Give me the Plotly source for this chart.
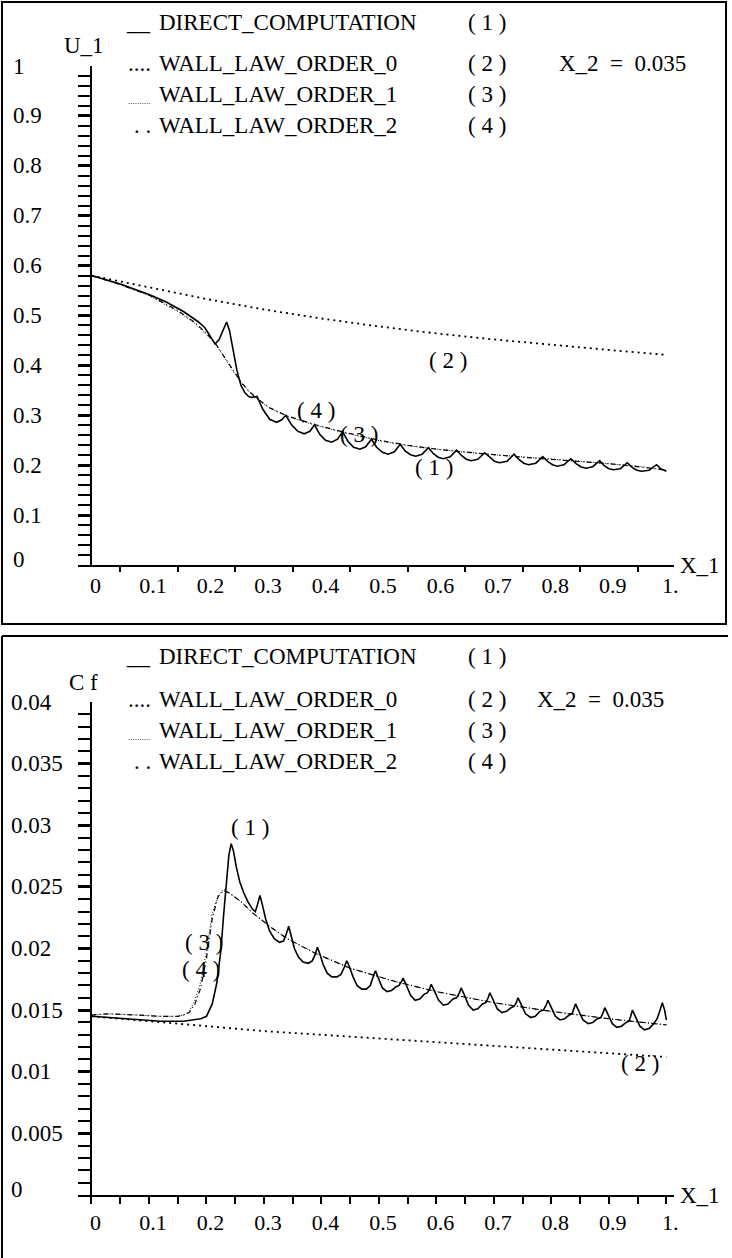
import plotly.graph_objects as go

W, H = 732, 1258
FONT = "Liberation Serif, Times New Roman, Times, DejaVu Serif, serif"

# ---------------- DATA: top panel (U_1 vs X_1) ----------------
x_u_wl0 = [0, 0.1, 0.2, 0.3, 0.4, 0.5, 0.6, 0.7, 0.8, 0.9, 1.0]
u_wl0 = [0.58, 0.556, 0.533, 0.512, 0.494, 0.478, 0.464, 0.452, 0.441, 0.431, 0.421]

x_u_wl = [0, 0.05, 0.1, 0.15, 0.18, 0.2, 0.215, 0.23, 0.245, 0.26, 0.275, 0.29,
          0.31, 0.34, 0.39, 0.44, 0.5, 0.55, 0.6, 0.65, 0.7, 0.75, 0.8, 0.85,
          0.9, 0.95, 1.0]
u_wl1 = [0.58, 0.562, 0.54, 0.508, 0.484, 0.462, 0.444, 0.418, 0.39, 0.366,
         0.346, 0.331, 0.314, 0.298, 0.28, 0.265, 0.249, 0.239, 0.232, 0.226,
         0.221, 0.217, 0.212, 0.208, 0.203, 0.198, 0.19]
u_wl2 = [0.58, 0.562, 0.541, 0.51, 0.486, 0.464, 0.445, 0.419, 0.391, 0.367,
         0.347, 0.332, 0.315, 0.299, 0.281, 0.266, 0.25, 0.24, 0.232, 0.226,
         0.221, 0.216, 0.212, 0.207, 0.203, 0.197, 0.19]

x_u_dc = [0, 0.05, 0.1, 0.13, 0.16, 0.185, 0.197, 0.207, 0.215, 0.222, 0.229,
          0.235, 0.24, 0.246, 0.253, 0.26, 0.267, 0.274, 0.28, 0.288,
          0.298, 0.31, 0.322, 0.331, 0.338,
          0.348, 0.359, 0.37, 0.38, 0.388,
          0.397, 0.407, 0.418, 0.428, 0.437,
          0.446, 0.456, 0.467, 0.477, 0.487,
          0.496, 0.506, 0.516, 0.527, 0.537,
          0.546, 0.555, 0.564, 0.575, 0.586,
          0.595, 0.603, 0.612, 0.624, 0.635,
          0.644, 0.652, 0.66, 0.672, 0.684,
          0.693, 0.701, 0.71, 0.723, 0.735,
          0.744, 0.752, 0.76, 0.773, 0.785,
          0.794, 0.802, 0.81, 0.822, 0.834,
          0.843, 0.851, 0.86, 0.872, 0.884,
          0.892, 0.9, 0.908, 0.92, 0.932,
          0.941, 0.949, 0.957, 0.97, 0.983,
          0.99, 1.0]
u_dc = [0.58, 0.563, 0.542, 0.527, 0.508, 0.488, 0.476, 0.458, 0.443, 0.452, 0.472,
        0.487, 0.47, 0.43, 0.39, 0.36, 0.345, 0.337, 0.336, 0.338,
        0.312, 0.292, 0.286, 0.291, 0.300,
        0.281, 0.268, 0.263, 0.268, 0.281,
        0.262, 0.250, 0.246, 0.252, 0.267,
        0.248, 0.236, 0.232, 0.237, 0.252,
        0.236, 0.226, 0.222, 0.227, 0.242,
        0.228, 0.221, 0.218, 0.222, 0.235,
        0.223, 0.216, 0.213, 0.217, 0.230,
        0.219, 0.212, 0.209, 0.212, 0.225,
        0.215, 0.208, 0.205, 0.208, 0.222,
        0.211, 0.204, 0.201, 0.204, 0.217,
        0.207, 0.201, 0.198, 0.201, 0.213,
        0.203, 0.197, 0.194, 0.197, 0.209,
        0.199, 0.193, 0.191, 0.193, 0.205,
        0.195, 0.190, 0.188, 0.190, 0.201,
        0.193, 0.188]

# ---------------- DATA: bottom panel (Cf vs X_1) ----------------
x_cf_wl0 = [0, 0.1, 0.2, 0.3, 0.4, 0.5, 0.6, 0.7, 0.8, 0.9, 1.0]
cf_wl0 = [0.0145, 0.0141, 0.0137, 0.0133, 0.0130, 0.0127, 0.0124, 0.0121,
          0.0118, 0.0115, 0.0112]

x_cf_wl = [0, 0.03, 0.08, 0.12, 0.15, 0.16, 0.17, 0.18, 0.19, 0.2, 0.21, 0.22,
           0.23, 0.24, 0.26, 0.28, 0.31, 0.34, 0.39, 0.45, 0.53, 0.6, 0.7,
           0.8, 0.9, 1.0]
cf_wl1 = [0.0146, 0.0147, 0.0146, 0.0145, 0.0145, 0.0146, 0.0149, 0.0158,
          0.0173, 0.0198, 0.0228, 0.0243, 0.0248, 0.0245, 0.0238, 0.0229,
          0.0218, 0.0208, 0.0196, 0.0184, 0.0173, 0.0165, 0.0156, 0.0149,
          0.0143, 0.0138]
cf_wl2 = [0.0146, 0.0147, 0.0146, 0.0145, 0.0145, 0.0146, 0.0148, 0.0155,
          0.0168, 0.0192, 0.0224, 0.0242, 0.0247, 0.0245, 0.0238, 0.0229,
          0.0218, 0.0208, 0.0196, 0.0184, 0.0173, 0.0165, 0.0156, 0.0149,
          0.0143, 0.0138]

x_cf_dc = [0, 0.03, 0.08, 0.12, 0.16, 0.18, 0.19, 0.2, 0.21, 0.218, 0.225, 0.23,
           0.235, 0.239, 0.243, 0.247, 0.252, 0.258, 0.265, 0.272, 0.28, 0.285,
           0.289, 0.293, 0.297, 0.303, 0.31, 0.318, 0.327, 0.334, 0.339, 0.343,
           0.347, 0.353, 0.36, 0.368, 0.377, 0.384, 0.389, 0.393,
           0.397, 0.403, 0.41, 0.418, 0.427, 0.434, 0.44, 0.444,
           0.448, 0.455, 0.462, 0.47, 0.478, 0.485, 0.49, 0.494,
           0.499, 0.506, 0.514, 0.522, 0.53, 0.535, 0.539, 0.542,
           0.547, 0.555, 0.563, 0.571, 0.579, 0.584, 0.588, 0.591,
           0.596, 0.604, 0.612, 0.62, 0.629, 0.635, 0.64, 0.643,
           0.648, 0.656, 0.664, 0.672, 0.68, 0.686, 0.69, 0.693,
           0.698, 0.706, 0.714, 0.722, 0.73, 0.735, 0.739, 0.742,
           0.747, 0.755, 0.764, 0.772, 0.78, 0.786, 0.791, 0.794,
           0.799, 0.807, 0.815, 0.823, 0.831, 0.836, 0.839, 0.842,
           0.847, 0.855, 0.864, 0.872, 0.88, 0.886, 0.89, 0.893,
           0.898, 0.906, 0.914, 0.922, 0.93, 0.935, 0.938, 0.941,
           0.946, 0.954, 0.962, 0.97, 0.978, 0.984, 0.989, 0.993,
           0.997, 1.0]
cf_dc = [0.0145, 0.0144, 0.0142, 0.0141, 0.0141, 0.0142, 0.0143, 0.0145, 0.0155,
         0.0172, 0.0198, 0.0228, 0.0256, 0.0276, 0.0285, 0.0279, 0.0266, 0.0254,
         0.0245, 0.0238, 0.0232, 0.0230, 0.0236, 0.0243, 0.0236, 0.0224, 0.0214,
         0.0208, 0.0205, 0.0206, 0.0212, 0.0218, 0.0211, 0.0200, 0.0193, 0.0189,
         0.0188, 0.0190, 0.0195, 0.0201,
         0.0196, 0.0187, 0.0180, 0.0177, 0.0177, 0.0179, 0.0185, 0.0190,
         0.0186, 0.0177, 0.0170, 0.0167, 0.0167, 0.0170, 0.0177, 0.0182,
         0.0176, 0.0168, 0.0165, 0.0166, 0.0169, 0.0170, 0.0173, 0.0176,
         0.0171, 0.0162, 0.0158, 0.0159, 0.0163, 0.0164, 0.0167, 0.0171,
         0.0166, 0.0158, 0.0154, 0.0155, 0.0159, 0.0160, 0.0164, 0.0168,
         0.0163, 0.0154, 0.0150, 0.0151, 0.0155, 0.0156, 0.0160, 0.0164,
         0.0159, 0.0151, 0.0148, 0.0149, 0.0152, 0.0153, 0.0156, 0.0160,
         0.0155, 0.0147, 0.0144, 0.0145, 0.0149, 0.0150, 0.0154, 0.0158,
         0.0153, 0.0145, 0.0142, 0.0143, 0.0146, 0.0147, 0.0151, 0.0155,
         0.0150, 0.0142, 0.0139, 0.0140, 0.0143, 0.0144, 0.0148, 0.0152,
         0.0147, 0.0139, 0.0136, 0.0137, 0.0140, 0.0141, 0.0145, 0.0150,
         0.0145, 0.0137, 0.0134, 0.0135, 0.0139, 0.0143, 0.0150, 0.0156,
         0.0150, 0.0142]

# ---------------- tick labels / texts ----------------
x_tickvals = [0, 0.1, 0.2, 0.3, 0.4, 0.5, 0.6, 0.7, 0.8, 0.9, 1.0]
x_ticktext = ["0", "0.1", "0.2", "0.3", "0.4", "0.5", "0.6", "0.7", "0.8", "0.9", "1."]
x_minor = [0.05, 0.15, 0.25, 0.35, 0.45, 0.55, 0.65, 0.75, 0.85, 0.95]
u_tickvals = [0, 0.1, 0.2, 0.3, 0.4, 0.5, 0.6, 0.7, 0.8, 0.9, 1.0]
u_ticktext = ["0", "0.1", "0.2", "0.3", "0.4", "0.5", "0.6", "0.7", "0.8", "0.9", "1"]
cf_tickvals = [0, 0.005, 0.01, 0.015, 0.02, 0.025, 0.03, 0.035, 0.04]
cf_ticktext = ["0", "0.005", "0.01", "0.015", "0.02", "0.025", "0.03", "0.035", "0.04"]
legend_names = ["DIRECT_COMPUTATION", "WALL_LAW_ORDER_0", "WALL_LAW_ORDER_1", "WALL_LAW_ORDER_2"]
legend_nums = ["( 1 )", "( 2 )", "( 3 )", "( 4 )"]
legend_marks = ["__", "....", "..........", ". ."]
x2_text = "X_2  =  0.035"

# ---------------- layout geometry (pixels) ----------------
def px(v):
    return v / W

def py(v):
    return 1 - v / H

X0_PX, X1_PX = 92, 670          # data x = 0 and x = 1
XL_PX, XR_PX = 78, 678          # axis line extent
scale = (X1_PX - X0_PX)
xr = [(XL_PX - X0_PX) / scale, (XR_PX - X0_PX) / scale]

TOP_Y0, TOP_Y1 = 565, 66         # pixel rows of value 0 / value 1
BOT_Y0, BOT_Y1 = 1195, 702       # pixel rows of value 0 / value 0.04

fig = go.Figure()

black = "#000000"
styles = {
    "dc": dict(color=black, width=1.6),
    "wl0": dict(color=black, width=1.8, dash="2px,4px"),
    "wl1": dict(color=black, width=1.0, dash="1px,2px"),
    "wl2": dict(color=black, width=1.2, dash="5px,3px,1px,3px"),
}

fig.add_trace(go.Scatter(x=x_u_wl0, y=u_wl0, mode="lines", line=styles["wl0"], xaxis="x", yaxis="y"))
fig.add_trace(go.Scatter(x=x_u_wl, y=u_wl1, mode="lines", line=styles["wl1"], xaxis="x", yaxis="y"))
fig.add_trace(go.Scatter(x=x_u_wl, y=u_wl2, mode="lines", line=styles["wl2"], xaxis="x", yaxis="y"))
fig.add_trace(go.Scatter(x=x_u_dc, y=u_dc, mode="lines", line=styles["dc"], xaxis="x", yaxis="y"))
fig.add_trace(go.Scatter(x=x_cf_wl0, y=cf_wl0, mode="lines", line=styles["wl0"], xaxis="x2", yaxis="y2"))
fig.add_trace(go.Scatter(x=x_cf_wl, y=cf_wl1, mode="lines", line=styles["wl1"], xaxis="x2", yaxis="y2"))
fig.add_trace(go.Scatter(x=x_cf_wl, y=cf_wl2, mode="lines", line=styles["wl2"], xaxis="x2", yaxis="y2"))
fig.add_trace(go.Scatter(x=x_cf_dc, y=cf_dc, mode="lines", line=styles["dc"], xaxis="x2", yaxis="y2"))

TXT = 23
tickfont = dict(family=FONT, size=22, color=black)

def xaxis_cfg(anchor, major_len, minor_len):
    return dict(
        domain=[px(XL_PX), px(XR_PX)], range=xr, anchor=anchor,
        showline=True, linecolor=black, linewidth=2,
        zeroline=True, zerolinecolor=black, zerolinewidth=2,
        showgrid=False, tickmode="array", tickvals=x_tickvals, ticktext=x_ticktext,
        ticks="outside", ticklen=major_len, tickwidth=1.5, tickcolor=black,
        tickfont=tickfont, ticklabelshift=4,
        minor=dict(tickmode="array", tickvals=x_minor, ticks="outside",
                   ticklen=minor_len, tickwidth=1.5, tickcolor=black, showgrid=False),
    )

def yaxis_cfg(anchor, y0px, y1px, rng, tv, mdt):
    return dict(
        domain=[py(y0px), py(y1px)], range=rng, anchor=anchor,
        showline=False, zeroline=False, showgrid=False,
        tickmode="array", tickvals=tv, showticklabels=False,
        ticks="inside", ticklen=14, tickwidth=2.5, tickcolor=black,
        minor=dict(dtick=mdt, tick0=0, ticks="inside", ticklen=14, tickwidth=2,
                   tickcolor=black, showgrid=False),
    )

annotations = []
def txt(xp, yp, text, size=TXT, xanchor="left", yanchor="middle", xref="paper", yref="paper", yshift=0):
    annotations.append(dict(x=xp, y=yp, xref=xref, yref=yref, text=text, showarrow=False,
                            xanchor=xanchor, yanchor=yanchor, yshift=yshift,
                            font=dict(family=FONT, size=size, color=black)))

# y tick labels (left aligned like the original)
for v, t in zip(u_tickvals, u_ticktext):
    txt(px(11), v, t, xref="paper", yref="y", yshift=(6 if v == 0 else 0))
for v, t in zip(cf_tickvals, cf_ticktext):
    txt(px(9), v, t, xref="paper", yref="y2", yshift=(6 if v == 0 else 0))

# axis titles
txt(px(84), py(46), "U_1", xanchor="center")
txt(px(84), py(682), "C f", xanchor="center")
txt(px(682), 0, "X_1", xref="paper", yref="y", yshift=0)
txt(px(682), 0, "X_1", xref="paper", yref="y2", yshift=0)

# legends
top_rows = [22, 64, 95, 126]
bot_rows = [656, 700, 731, 762]
for rows in (top_rows, bot_rows):
    for i, r in enumerate(rows):
        if i == 2:
            txt(px(154), py(r), legend_marks[i], size=9, xanchor="right", yshift=-6)
        else:
            txt(px(154), py(r), legend_marks[i], xanchor="right")
        txt(px(158), py(r), legend_names[i])
        txt(px(469), py(r), legend_nums[i])
txt(px(560), py(top_rows[1]), x2_text)
txt(px(538), py(bot_rows[1]), x2_text)

# curve labels
txt(0.62, 0.41, "( 2 )", xref="x", yref="y", xanchor="center")
txt(0.39, 0.31, "( 4 )", xref="x", yref="y", xanchor="center")
txt(0.465, 0.262, "( 3 )", xref="x", yref="y", xanchor="center")
txt(0.595, 0.196, "( 1 )", xref="x", yref="y", xanchor="center")
txt(0.275, 0.0298, "( 1 )", xref="x2", yref="y2", xanchor="center")
txt(0.195, 0.0205, "( 3 )", xref="x2", yref="y2", xanchor="center")
txt(0.19, 0.0183, "( 4 )", xref="x2", yref="y2", xanchor="center")
txt(0.955, 0.0107, "( 2 )", xref="x2", yref="y2", xanchor="center")

shapes = [
    dict(type="rect", xref="paper", yref="paper", x0=px(2), x1=px(730), y0=py(624), y1=py(2),
         line=dict(color=black, width=2)),
    dict(type="line", xref="paper", yref="paper", x0=px(2), x1=px(732), y0=py(636), y1=py(636),
         line=dict(color=black, width=2)),
    dict(type="line", xref="paper", yref="paper", x0=px(2), x1=px(2), y0=py(636), y1=py(1258),
         line=dict(color=black, width=2)),
]

fig.update_layout(
    width=W, height=H, margin=dict(l=0, r=0, t=0, b=0),
    paper_bgcolor="white", plot_bgcolor="white", showlegend=False,
    font=dict(family=FONT, color=black),
    xaxis=xaxis_cfg("y", 0, 5),
    yaxis=yaxis_cfg("x", TOP_Y0, TOP_Y1, [0, 1], u_tickvals, 0.02),
    xaxis2=xaxis_cfg("y2", 7, 7),
    yaxis2=yaxis_cfg("x2", BOT_Y0, BOT_Y1, [0, 0.04], cf_tickvals, 0.001),
    annotations=annotations, shapes=shapes,
)

fig.write_html("out.html")
